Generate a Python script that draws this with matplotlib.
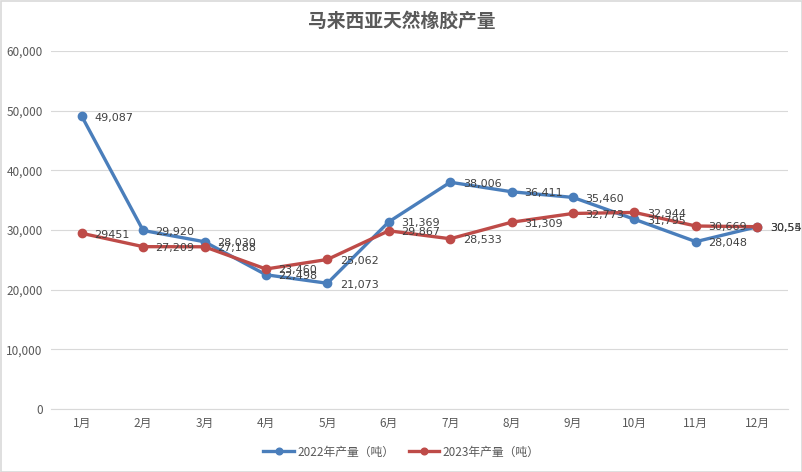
import matplotlib
matplotlib.use("Agg")
import matplotlib.pyplot as plt
from matplotlib.ticker import FuncFormatter
from matplotlib.patches import Rectangle

plt.rcParams['font.family'] = ['Noto Sans CJK SC', 'DejaVu Sans']

months = ['1月', '2月', '3月', '4月', '5月', '6月', '7月', '8月', '9月', '10月', '11月', '12月']
s2022 = [49087, 29920, 28030, 22498, 21073, 31369, 38006, 36411, 35460, 31795, 28048, 30546]
s2023 = [29451, 27209, 27188, 23460, 25062, 29867, 28533, 31309, 32773, 32944, 30669, 30552]
labels2022 = ['49,087', '29,920', '28,030', '22,498', '21,073', '31,369', '38,006', '36,411', '35,460', '31,795', '28,048', '30,546']
labels2023 = ['29451', '27,209', '27,188', '23,460', '25,062', '29,867', '28,533', '31,309', '32,773', '32,944', '30,669', '30,552']
name2022 = '2022年产量（吨）'
name2023 = '2023年产量（吨）'
title = '马来西亚天然橡胶产量'

c_blue = '#4a7ebb'
c_red = '#be4b48'

fig = plt.figure(figsize=(8.03, 4.72), dpi=100)
ax = fig.add_axes([51/803, 1-409/472, (788-51)/803, (409-51)/472])

x = list(range(len(months)))
ax.plot(x, s2022, color=c_blue, lw=2.4, marker='o', ms=6, label=name2022, zorder=3)
ax.plot(x, s2023, color=c_red, lw=2.4, marker='o', ms=6, label=name2023, zorder=3)

for xi, v, t in zip(x, s2022, labels2022):
    ax.annotate(t, (xi, v), xytext=(9, -1), textcoords='offset points', ha='left', va='center',
                fontsize=8, color='#404040', family=['DejaVu Sans'], annotation_clip=False)
for xi, v, t in zip(x, s2023, labels2023):
    ax.annotate(t, (xi, v), xytext=(9, -1), textcoords='offset points', ha='left', va='center',
                fontsize=8, color='#404040', family=['DejaVu Sans'], annotation_clip=False)

ax.set_xlim(-0.5, 11.5)
ax.set_ylim(0, 60000)
ax.set_yticks(range(0, 60001, 10000))
ax.yaxis.set_major_formatter(FuncFormatter(lambda v, p: f'{int(v):,}'))
ax.set_xticks(x)
ax.set_xticklabels(months)
ax.grid(axis='y', color='#d9d9d9', lw=0.8)
ax.set_axisbelow(True)
for s in ['top', 'right', 'left']:
    ax.spines[s].set_visible(False)
ax.spines['bottom'].set_color('#d9d9d9')
ax.tick_params(axis='both', length=0, labelsize=8.5, colors='#595959')
ax.tick_params(axis='y', pad=6)
ax.tick_params(axis='x', pad=6)

fig.text(0.5, 1-21/472, title, ha='center', va='center', fontsize=13.5, color='#595959', fontweight='bold')

leg = fig.legend(loc='center', bbox_to_anchor=(0.5, 1-452/472), ncol=2, frameon=False,
                 fontsize=8.5, labelcolor='#595959', handlelength=2.6, columnspacing=1.2,
                 handletextpad=0.3, markerscale=0.8)

fig.patches.append(Rectangle((0.5/803, 0.5/472), 1-1/803, 1-1/472, transform=fig.transFigure,
                             fill=False, edgecolor='#d9d9d9', lw=1.2))

fig.savefig('out.png', dpi=100)
